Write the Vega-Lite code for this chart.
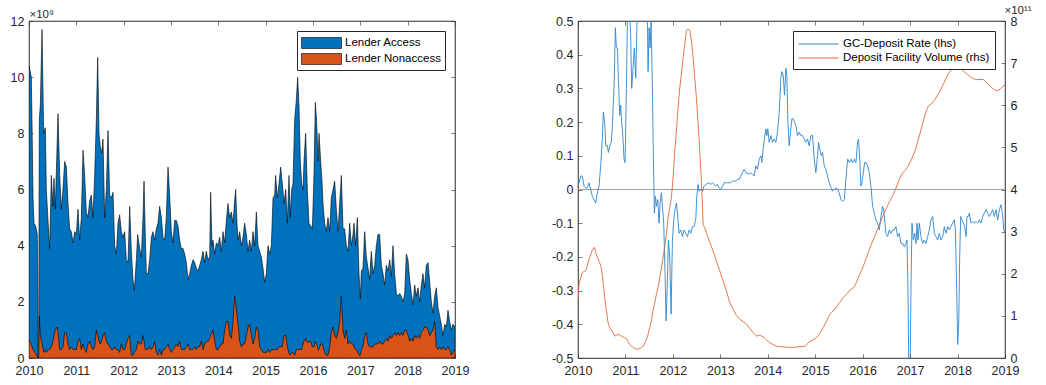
{
"$schema": "https://vega.github.io/schema/vega-lite/v6.json",
"background": "white",
"padding": {"left": 9, "top": 3, "right": 0, "bottom": 0},
"spacing": 81,
"resolve": {"scale": {"color": "independent"}, "legend": {"color": "independent"}},
"config": {
 "font": "Liberation Sans",
 "view": {"stroke": "#262626", "strokeWidth": 0.6},
 "axis": {"grid": false, "labelFlush": false, "labelOverlap": false, "labelFont": "Liberation Sans", "labelFontSize": 12.5, "labelColor": "#262626", "tickColor": "#262626", "domainColor": "#262626", "domainWidth": 0.6, "tickWidth": 0.6, "tickSize": -4, "labelPadding": 9, "titleFont": "Liberation Sans", "titleFontWeight": "normal", "titleColor": "#262626"},
 "axisX": {"labelPadding": 10},
 "legend": {"labelFont": "Liberation Sans", "labelFontSize": 11.5, "labelColor": "#000", "strokeColor": "#262626", "fillColor": "white", "padding": 4}
},
"datasets": {
"lend": [
{"t":2010.000,"access":10.4,"nonaccess":0.6},{"t":2010.014,"access":10.3,"nonaccess":0.6},{"t":2010.049,"access":10.0,"nonaccess":0.5},{"t":2010.063,"access":8.5,"nonaccess":0.4},{"t":2010.085,"access":5.7,"nonaccess":0.3},{"t":2010.106,"access":4.8,"nonaccess":0.25},{"t":2010.141,"access":4.7,"nonaccess":0.15},{"t":2010.176,"access":4.4,"nonaccess":0.05},{"t":2010.190,"access":0.0,"nonaccess":0.0},{"t":2010.204,"access":0.0,"nonaccess":0.0},{"t":2010.218,"access":8.5,"nonaccess":1.5},{"t":2010.239,"access":9.0,"nonaccess":0.8},{"t":2010.275,"access":11.7,"nonaccess":0.5},{"t":2010.310,"access":8.0,"nonaccess":0.2},{"t":2010.345,"access":8.2,"nonaccess":0.3},{"t":2010.366,"access":6.0,"nonaccess":0.2},{"t":2010.415,"access":4.5,"nonaccess":0.3},{"t":2010.437,"access":3.9,"nonaccess":0.3},{"t":2010.472,"access":6.5,"nonaccess":0.4},{"t":2010.507,"access":5.4,"nonaccess":0.6},{"t":2010.528,"access":6.4,"nonaccess":0.8},{"t":2010.556,"access":5.3,"nonaccess":1.0},{"t":2010.592,"access":7.5,"nonaccess":1.1},{"t":2010.613,"access":8.7,"nonaccess":0.9},{"t":2010.648,"access":6.5,"nonaccess":0.3},{"t":2010.683,"access":5.3,"nonaccess":0.3},{"t":2010.718,"access":6.0,"nonaccess":0.4},{"t":2010.754,"access":7.0,"nonaccess":0.9},{"t":2010.789,"access":6.8,"nonaccess":0.9},{"t":2010.824,"access":5.5,"nonaccess":0.5},{"t":2010.859,"access":4.6,"nonaccess":0.3},{"t":2010.894,"access":4.5,"nonaccess":0.4},{"t":2010.930,"access":4.1,"nonaccess":0.3},{"t":2010.965,"access":4.5,"nonaccess":0.3},
{"t":2011.000,"access":4.4,"nonaccess":0.3},{"t":2011.035,"access":5.3,"nonaccess":0.6},{"t":2011.070,"access":4.2,"nonaccess":0.7},{"t":2011.106,"access":5.0,"nonaccess":0.3},{"t":2011.141,"access":7.4,"nonaccess":0.5},{"t":2011.176,"access":6.5,"nonaccess":0.3},{"t":2011.211,"access":5.2,"nonaccess":0.2},{"t":2011.246,"access":5.0,"nonaccess":0.5},{"t":2011.282,"access":5.6,"nonaccess":0.6},{"t":2011.317,"access":5.8,"nonaccess":0.4},{"t":2011.352,"access":5.0,"nonaccess":0.3},{"t":2011.387,"access":6.5,"nonaccess":0.4},{"t":2011.423,"access":8.5,"nonaccess":1.0},{"t":2011.451,"access":10.7,"nonaccess":0.8},{"t":2011.479,"access":8.0,"nonaccess":0.6},{"t":2011.507,"access":7.5,"nonaccess":0.5},{"t":2011.535,"access":7.3,"nonaccess":0.6},{"t":2011.563,"access":7.8,"nonaccess":0.8},{"t":2011.599,"access":5.0,"nonaccess":0.9},{"t":2011.634,"access":6.0,"nonaccess":0.6},{"t":2011.669,"access":8.1,"nonaccess":0.5},{"t":2011.704,"access":5.8,"nonaccess":0.4},{"t":2011.739,"access":5.7,"nonaccess":0.3},{"t":2011.775,"access":5.9,"nonaccess":0.3},{"t":2011.810,"access":4.0,"nonaccess":0.4},{"t":2011.845,"access":3.7,"nonaccess":0.3},{"t":2011.880,"access":4.8,"nonaccess":0.3},{"t":2011.915,"access":5.1,"nonaccess":0.2},{"t":2011.951,"access":4.5,"nonaccess":0.5},{"t":2011.986,"access":4.3,"nonaccess":0.3},
{"t":2012.021,"access":4.5,"nonaccess":0.3},{"t":2012.056,"access":3.5,"nonaccess":0.5},{"t":2012.092,"access":3.4,"nonaccess":0.7},{"t":2012.127,"access":5.4,"nonaccess":0.8},{"t":2012.162,"access":3.8,"nonaccess":0.1},{"t":2012.197,"access":2.8,"nonaccess":0.1},{"t":2012.225,"access":2.4,"nonaccess":0.2},{"t":2012.268,"access":3.5,"nonaccess":0.3},{"t":2012.296,"access":4.4,"nonaccess":0.6},{"t":2012.338,"access":3.9,"nonaccess":0.5},{"t":2012.373,"access":3.6,"nonaccess":0.5},{"t":2012.408,"access":5.0,"nonaccess":0.8},{"t":2012.430,"access":6.3,"nonaccess":0.6},{"t":2012.458,"access":4.3,"nonaccess":0.3},{"t":2012.479,"access":3.0,"nonaccess":0.3},{"t":2012.514,"access":3.0,"nonaccess":0.3},{"t":2012.549,"access":3.5,"nonaccess":0.4},{"t":2012.585,"access":4.3,"nonaccess":0.3},{"t":2012.620,"access":4.5,"nonaccess":0.4},{"t":2012.655,"access":4.2,"nonaccess":0.6},{"t":2012.690,"access":4.6,"nonaccess":0.2},{"t":2012.725,"access":4.8,"nonaccess":0.1},{"t":2012.761,"access":5.4,"nonaccess":0.3},{"t":2012.796,"access":5.0,"nonaccess":0.1},{"t":2012.831,"access":4.3,"nonaccess":0.3},{"t":2012.866,"access":4.2,"nonaccess":0.3},{"t":2012.901,"access":5.0,"nonaccess":0.4},{"t":2012.937,"access":6.8,"nonaccess":0.5},{"t":2012.972,"access":5.8,"nonaccess":0.3},
{"t":2013.007,"access":4.5,"nonaccess":0.2},{"t":2013.042,"access":4.1,"nonaccess":0.3},{"t":2013.077,"access":4.9,"nonaccess":0.4},{"t":2013.113,"access":4.9,"nonaccess":0.5},{"t":2013.148,"access":4.7,"nonaccess":0.4},{"t":2013.183,"access":4.2,"nonaccess":0.6},{"t":2013.218,"access":3.9,"nonaccess":0.3},{"t":2013.254,"access":3.9,"nonaccess":0.3},{"t":2013.289,"access":3.7,"nonaccess":0.3},{"t":2013.324,"access":3.4,"nonaccess":0.4},{"t":2013.359,"access":2.8,"nonaccess":0.5},{"t":2013.394,"access":3.0,"nonaccess":0.3},{"t":2013.430,"access":3.3,"nonaccess":0.3},{"t":2013.465,"access":3.5,"nonaccess":0.3},{"t":2013.500,"access":3.4,"nonaccess":0.4},{"t":2013.535,"access":3.2,"nonaccess":0.3},{"t":2013.570,"access":3.1,"nonaccess":0.4},{"t":2013.606,"access":3.3,"nonaccess":0.4},{"t":2013.641,"access":3.5,"nonaccess":0.6},{"t":2013.676,"access":3.8,"nonaccess":0.3},{"t":2013.711,"access":3.4,"nonaccess":0.5},{"t":2013.746,"access":3.8,"nonaccess":0.6},{"t":2013.782,"access":3.5,"nonaccess":0.6},{"t":2013.817,"access":3.6,"nonaccess":0.7},{"t":2013.838,"access":5.9,"nonaccess":0.8},{"t":2013.866,"access":4.0,"nonaccess":0.9},{"t":2013.887,"access":4.2,"nonaccess":1.0},{"t":2013.923,"access":3.7,"nonaccess":0.6},{"t":2013.958,"access":4.1,"nonaccess":0.3},{"t":2013.993,"access":4.0,"nonaccess":0.3},
{"t":2014.028,"access":4.3,"nonaccess":0.4},{"t":2014.063,"access":3.8,"nonaccess":0.5},{"t":2014.099,"access":4.5,"nonaccess":0.5},{"t":2014.134,"access":4.1,"nonaccess":1.0},{"t":2014.169,"access":4.9,"nonaccess":1.3},{"t":2014.204,"access":5.5,"nonaccess":1.3},{"t":2014.239,"access":5.0,"nonaccess":0.8},{"t":2014.275,"access":5.2,"nonaccess":0.7},{"t":2014.310,"access":4.8,"nonaccess":1.3},{"t":2014.345,"access":5.6,"nonaccess":2.2},{"t":2014.366,"access":6.0,"nonaccess":2.0},{"t":2014.394,"access":4.8,"nonaccess":1.5},{"t":2014.415,"access":4.2,"nonaccess":1.2},{"t":2014.451,"access":4.5,"nonaccess":0.6},{"t":2014.486,"access":4.0,"nonaccess":0.4},{"t":2014.521,"access":4.3,"nonaccess":0.5},{"t":2014.556,"access":4.8,"nonaccess":0.5},{"t":2014.592,"access":4.4,"nonaccess":0.8},{"t":2014.627,"access":3.8,"nonaccess":1.1},{"t":2014.662,"access":4.2,"nonaccess":1.2},{"t":2014.697,"access":3.8,"nonaccess":0.8},{"t":2014.732,"access":4.5,"nonaccess":0.5},{"t":2014.768,"access":4.0,"nonaccess":0.7},{"t":2014.803,"access":5.2,"nonaccess":1.1},{"t":2014.838,"access":4.0,"nonaccess":1.0},{"t":2014.873,"access":3.8,"nonaccess":0.4},{"t":2014.908,"access":3.6,"nonaccess":0.3},{"t":2014.944,"access":3.2,"nonaccess":0.2},{"t":2014.979,"access":2.7,"nonaccess":0.2},
{"t":2015.014,"access":3.0,"nonaccess":0.2},{"t":2015.049,"access":4.0,"nonaccess":0.3},{"t":2015.085,"access":3.7,"nonaccess":0.2},{"t":2015.120,"access":4.0,"nonaccess":0.3},{"t":2015.155,"access":5.7,"nonaccess":0.3},{"t":2015.190,"access":5.8,"nonaccess":0.3},{"t":2015.211,"access":6.5,"nonaccess":0.3},{"t":2015.246,"access":5.7,"nonaccess":0.3},{"t":2015.282,"access":6.2,"nonaccess":0.4},{"t":2015.317,"access":6.8,"nonaccess":0.4},{"t":2015.352,"access":6.2,"nonaccess":0.4},{"t":2015.387,"access":5.5,"nonaccess":0.8},{"t":2015.423,"access":6.0,"nonaccess":0.8},{"t":2015.458,"access":4.8,"nonaccess":0.4},{"t":2015.493,"access":6.5,"nonaccess":0.15},{"t":2015.521,"access":5.0,"nonaccess":0.1},{"t":2015.549,"access":6.0,"nonaccess":0.2},{"t":2015.577,"access":6.2,"nonaccess":0.2},{"t":2015.613,"access":8.5,"nonaccess":0.1},{"t":2015.648,"access":9.2,"nonaccess":0.3},{"t":2015.676,"access":10.0,"nonaccess":0.3},{"t":2015.704,"access":9.0,"nonaccess":0.3},{"t":2015.732,"access":7.0,"nonaccess":0.3},{"t":2015.761,"access":6.2,"nonaccess":0.3},{"t":2015.789,"access":6.0,"nonaccess":0.5},{"t":2015.810,"access":7.0,"nonaccess":0.6},{"t":2015.845,"access":8.0,"nonaccess":0.7},{"t":2015.880,"access":6.0,"nonaccess":0.55},{"t":2015.915,"access":4.8,"nonaccess":0.6},{"t":2015.951,"access":4.7,"nonaccess":0.6},{"t":2015.986,"access":4.6,"nonaccess":0.4},
{"t":2016.021,"access":6.5,"nonaccess":0.4},{"t":2016.049,"access":9.1,"nonaccess":0.6},{"t":2016.077,"access":8.4,"nonaccess":0.5},{"t":2016.106,"access":7.0,"nonaccess":0.3},{"t":2016.127,"access":8.0,"nonaccess":0.3},{"t":2016.162,"access":7.0,"nonaccess":0.5},{"t":2016.190,"access":6.3,"nonaccess":0.5},{"t":2016.211,"access":5.5,"nonaccess":0.4},{"t":2016.246,"access":4.8,"nonaccess":0.2},{"t":2016.282,"access":4.5,"nonaccess":0.1},{"t":2016.317,"access":5.0,"nonaccess":0.1},{"t":2016.352,"access":4.5,"nonaccess":0.4},{"t":2016.387,"access":5.7,"nonaccess":0.9},{"t":2016.423,"access":6.0,"nonaccess":1.1},{"t":2016.458,"access":6.3,"nonaccess":0.8},{"t":2016.493,"access":5.3,"nonaccess":0.7},{"t":2016.528,"access":4.5,"nonaccess":0.9},{"t":2016.563,"access":5.5,"nonaccess":1.3},{"t":2016.599,"access":6.5,"nonaccess":2.2},{"t":2016.634,"access":4.6,"nonaccess":1.0},{"t":2016.669,"access":4.6,"nonaccess":0.7},{"t":2016.704,"access":4.0,"nonaccess":1.0},{"t":2016.739,"access":3.8,"nonaccess":0.5},{"t":2016.775,"access":4.8,"nonaccess":0.6},{"t":2016.810,"access":4.0,"nonaccess":0.5},{"t":2016.845,"access":4.4,"nonaccess":0.5},{"t":2016.866,"access":4.8,"nonaccess":0.4},{"t":2016.901,"access":4.0,"nonaccess":0.3},{"t":2016.937,"access":5.0,"nonaccess":0.25},{"t":2016.972,"access":3.0,"nonaccess":0.1},
{"t":2017.000,"access":2.1,"nonaccess":0.1},{"t":2017.021,"access":3.1,"nonaccess":0.3},{"t":2017.056,"access":3.2,"nonaccess":0.4},{"t":2017.092,"access":4.5,"nonaccess":0.8},{"t":2017.127,"access":3.6,"nonaccess":0.9},{"t":2017.162,"access":3.2,"nonaccess":0.5},{"t":2017.197,"access":2.8,"nonaccess":0.4},{"t":2017.232,"access":3.8,"nonaccess":0.4},{"t":2017.268,"access":3.0,"nonaccess":0.4},{"t":2017.303,"access":3.3,"nonaccess":0.5},{"t":2017.338,"access":4.0,"nonaccess":0.5},{"t":2017.373,"access":4.4,"nonaccess":0.5},{"t":2017.408,"access":4.4,"nonaccess":0.6},{"t":2017.444,"access":3.3,"nonaccess":0.5},{"t":2017.479,"access":3.0,"nonaccess":0.5},{"t":2017.514,"access":2.6,"nonaccess":0.6},{"t":2017.549,"access":3.3,"nonaccess":0.7},{"t":2017.585,"access":3.1,"nonaccess":0.6},{"t":2017.620,"access":3.5,"nonaccess":0.8},{"t":2017.655,"access":2.9,"nonaccess":0.7},{"t":2017.690,"access":4.0,"nonaccess":0.8},{"t":2017.725,"access":3.0,"nonaccess":0.9},{"t":2017.761,"access":2.3,"nonaccess":0.8},{"t":2017.796,"access":2.2,"nonaccess":0.9},{"t":2017.831,"access":2.3,"nonaccess":0.8},{"t":2017.866,"access":2.2,"nonaccess":0.9},{"t":2017.901,"access":2.0,"nonaccess":0.8},{"t":2017.937,"access":2.3,"nonaccess":1.0},{"t":2017.972,"access":3.7,"nonaccess":1.0},
{"t":2018.007,"access":3.5,"nonaccess":0.8},{"t":2018.042,"access":2.8,"nonaccess":0.6},{"t":2018.077,"access":2.3,"nonaccess":0.7},{"t":2018.113,"access":1.9,"nonaccess":0.6},{"t":2018.148,"access":2.6,"nonaccess":0.8},{"t":2018.183,"access":2.2,"nonaccess":0.7},{"t":2018.218,"access":2.5,"nonaccess":0.8},{"t":2018.254,"access":2.0,"nonaccess":0.7},{"t":2018.289,"access":2.6,"nonaccess":0.9},{"t":2018.324,"access":3.0,"nonaccess":1.0},{"t":2018.359,"access":2.5,"nonaccess":1.1},{"t":2018.394,"access":3.3,"nonaccess":1.1},{"t":2018.430,"access":3.4,"nonaccess":1.0},{"t":2018.465,"access":2.7,"nonaccess":0.8},{"t":2018.500,"access":2.0,"nonaccess":0.9},{"t":2018.535,"access":1.6,"nonaccess":1.0},{"t":2018.570,"access":2.2,"nonaccess":1.3},{"t":2018.606,"access":2.5,"nonaccess":0.4},{"t":2018.641,"access":1.8,"nonaccess":0.3},{"t":2018.676,"access":1.5,"nonaccess":0.4},{"t":2018.711,"access":1.2,"nonaccess":0.3},{"t":2018.746,"access":0.8,"nonaccess":0.4},{"t":2018.782,"access":1.2,"nonaccess":0.3},{"t":2018.817,"access":1.1,"nonaccess":0.3},{"t":2018.852,"access":1.7,"nonaccess":0.4},{"t":2018.887,"access":1.3,"nonaccess":0.3},{"t":2018.923,"access":1.0,"nonaccess":0.1},{"t":2018.958,"access":1.2,"nonaccess":0.2},{"t":2019.000,"access":1.1,"nonaccess":0.3}
],
"rate": [
{"t":2010.000,"gc":0.03},{"t":2010.021,"gc":0.02},{"t":2010.056,"gc":0.04},{"t":2010.091,"gc":0.04},{"t":2010.127,"gc":0.01},{"t":2010.162,"gc":0.005},{"t":2010.197,"gc":0.005},{"t":2010.232,"gc":0.02},{"t":2010.267,"gc":0.0},{"t":2010.302,"gc":-0.02},{"t":2010.338,"gc":-0.03},{"t":2010.373,"gc":-0.04},{"t":2010.408,"gc":-0.01},{"t":2010.443,"gc":0.01},{"t":2010.478,"gc":0.07},{"t":2010.513,"gc":0.15},{"t":2010.534,"gc":0.23},{"t":2010.563,"gc":0.2},{"t":2010.584,"gc":0.13},{"t":2010.619,"gc":0.13},{"t":2010.640,"gc":0.11},{"t":2010.668,"gc":0.13},{"t":2010.703,"gc":0.14},{"t":2010.724,"gc":0.19},{"t":2010.759,"gc":0.30},{"t":2010.788,"gc":0.48},{"t":2010.809,"gc":0.42},{"t":2010.830,"gc":0.42},{"t":2010.851,"gc":0.33},{"t":2010.879,"gc":0.22},{"t":2010.900,"gc":0.25},{"t":2010.921,"gc":0.20},{"t":2010.949,"gc":0.15},{"t":2010.970,"gc":0.09},{"t":2010.992,"gc":0.08},
{"t":2011.020,"gc":0.30},{"t":2011.041,"gc":0.50},{"t":2011.062,"gc":0.62},{"t":2011.090,"gc":0.55},{"t":2011.111,"gc":0.45},{"t":2011.132,"gc":0.30},{"t":2011.160,"gc":0.36},{"t":2011.188,"gc":0.42},{"t":2011.217,"gc":0.33},{"t":2011.245,"gc":0.50},{"t":2011.266,"gc":0.62},{"t":2011.301,"gc":0.70},{"t":2011.343,"gc":0.65},{"t":2011.392,"gc":0.68},{"t":2011.442,"gc":0.58},{"t":2011.463,"gc":0.50},{"t":2011.477,"gc":0.35},{"t":2011.498,"gc":0.48},{"t":2011.519,"gc":0.42},{"t":2011.540,"gc":0.50},{"t":2011.568,"gc":0.30},{"t":2011.589,"gc":0.10},{"t":2011.610,"gc":-0.07},{"t":2011.632,"gc":-0.02},{"t":2011.653,"gc":-0.05},{"t":2011.681,"gc":-0.03},{"t":2011.709,"gc":-0.10},{"t":2011.730,"gc":-0.04},{"t":2011.758,"gc":-0.01},{"t":2011.779,"gc":-0.05},{"t":2011.807,"gc":-0.10},{"t":2011.835,"gc":-0.25},{"t":2011.857,"gc":-0.39},{"t":2011.878,"gc":-0.30},{"t":2011.906,"gc":-0.15},{"t":2011.934,"gc":-0.20},{"t":2011.962,"gc":-0.37},{"t":2011.990,"gc":-0.15},
{"t":2012.018,"gc":-0.09},{"t":2012.046,"gc":-0.06},{"t":2012.075,"gc":-0.04},{"t":2012.103,"gc":-0.08},{"t":2012.131,"gc":-0.13},{"t":2012.166,"gc":-0.12},{"t":2012.201,"gc":-0.14},{"t":2012.236,"gc":-0.12},{"t":2012.271,"gc":-0.13},{"t":2012.307,"gc":-0.14},{"t":2012.342,"gc":-0.12},{"t":2012.377,"gc":-0.13},{"t":2012.412,"gc":-0.11},{"t":2012.447,"gc":-0.11},{"t":2012.482,"gc":-0.09},{"t":2012.504,"gc":-0.02},{"t":2012.532,"gc":0.015},{"t":2012.553,"gc":-0.005},{"t":2012.588,"gc":0.0},{"t":2012.623,"gc":-0.005},{"t":2012.658,"gc":0.01},{"t":2012.693,"gc":0.015},{"t":2012.764,"gc":0.02},{"t":2012.799,"gc":0.015},{"t":2012.834,"gc":0.02},{"t":2012.904,"gc":0.01},{"t":2012.940,"gc":0.015},{"t":2012.975,"gc":0.005},
{"t":2013.010,"gc":0.0},{"t":2013.045,"gc":0.01},{"t":2013.080,"gc":0.02},{"t":2013.150,"gc":0.02},{"t":2013.221,"gc":0.02},{"t":2013.256,"gc":0.025},{"t":2013.326,"gc":0.025},{"t":2013.361,"gc":0.03},{"t":2013.397,"gc":0.03},{"t":2013.432,"gc":0.04},{"t":2013.467,"gc":0.05},{"t":2013.502,"gc":0.06},{"t":2013.537,"gc":0.05},{"t":2013.608,"gc":0.045},{"t":2013.643,"gc":0.05},{"t":2013.678,"gc":0.045},{"t":2013.713,"gc":0.04},{"t":2013.748,"gc":0.07},{"t":2013.783,"gc":0.06},{"t":2013.819,"gc":0.09},{"t":2013.854,"gc":0.10},{"t":2013.875,"gc":0.08},{"t":2013.903,"gc":0.12},{"t":2013.931,"gc":0.15},{"t":2013.959,"gc":0.18},{"t":2013.980,"gc":0.16},
{"t":2014.001,"gc":0.18},{"t":2014.030,"gc":0.14},{"t":2014.065,"gc":0.16},{"t":2014.100,"gc":0.14},{"t":2014.135,"gc":0.15},{"t":2014.170,"gc":0.14},{"t":2014.205,"gc":0.17},{"t":2014.241,"gc":0.23},{"t":2014.276,"gc":0.33},{"t":2014.297,"gc":0.35},{"t":2014.325,"gc":0.34},{"t":2014.353,"gc":0.28},{"t":2014.381,"gc":0.36},{"t":2014.402,"gc":0.34},{"t":2014.423,"gc":0.20},{"t":2014.451,"gc":0.13},{"t":2014.480,"gc":0.17},{"t":2014.508,"gc":0.21},{"t":2014.536,"gc":0.21},{"t":2014.564,"gc":0.20},{"t":2014.592,"gc":0.19},{"t":2014.627,"gc":0.16},{"t":2014.662,"gc":0.17},{"t":2014.698,"gc":0.16},{"t":2014.733,"gc":0.16},{"t":2014.768,"gc":0.15},{"t":2014.803,"gc":0.14},{"t":2014.838,"gc":0.15},{"t":2014.873,"gc":0.13},{"t":2014.909,"gc":0.16},{"t":2014.944,"gc":0.16},{"t":2014.979,"gc":0.09},
{"t":2015.014,"gc":0.05},{"t":2015.049,"gc":0.10},{"t":2015.070,"gc":0.14},{"t":2015.098,"gc":0.12},{"t":2015.127,"gc":0.10},{"t":2015.155,"gc":0.11},{"t":2015.190,"gc":0.07},{"t":2015.225,"gc":0.06},{"t":2015.260,"gc":0.04},{"t":2015.295,"gc":0.02},{"t":2015.331,"gc":0.005},{"t":2015.366,"gc":-0.005},{"t":2015.401,"gc":0.0},{"t":2015.436,"gc":0.005},{"t":2015.471,"gc":0.0},{"t":2015.506,"gc":-0.01},{"t":2015.541,"gc":-0.03},{"t":2015.577,"gc":-0.035},{"t":2015.612,"gc":-0.03},{"t":2015.647,"gc":0.03},{"t":2015.682,"gc":0.09},{"t":2015.717,"gc":0.08},{"t":2015.752,"gc":0.09},{"t":2015.788,"gc":0.08},{"t":2015.823,"gc":0.09},{"t":2015.858,"gc":0.08},{"t":2015.893,"gc":0.14},{"t":2015.914,"gc":0.15},{"t":2015.942,"gc":0.08},{"t":2015.963,"gc":0.01},{"t":2015.984,"gc":0.02},
{"t":2016.013,"gc":0.05},{"t":2016.041,"gc":0.08},{"t":2016.069,"gc":0.08},{"t":2016.104,"gc":0.07},{"t":2016.139,"gc":0.05},{"t":2016.174,"gc":0.01},{"t":2016.210,"gc":-0.05},{"t":2016.245,"gc":-0.07},{"t":2016.280,"gc":-0.09},{"t":2016.315,"gc":-0.10},{"t":2016.350,"gc":-0.12},{"t":2016.385,"gc":-0.08},{"t":2016.421,"gc":-0.05},{"t":2016.442,"gc":-0.06},{"t":2016.463,"gc":-0.09},{"t":2016.491,"gc":-0.13},{"t":2016.526,"gc":-0.14},{"t":2016.561,"gc":-0.12},{"t":2016.596,"gc":-0.13},{"t":2016.632,"gc":-0.12},{"t":2016.667,"gc":-0.12},{"t":2016.702,"gc":-0.11},{"t":2016.737,"gc":-0.14},{"t":2016.772,"gc":-0.13},{"t":2016.807,"gc":-0.16},{"t":2016.842,"gc":-0.16},{"t":2016.878,"gc":-0.17},{"t":2016.913,"gc":-0.16},{"t":2016.934,"gc":-0.15},{"t":2016.955,"gc":-0.30},{"t":2016.976,"gc":-0.58},{"t":2016.997,"gc":-0.58},
{"t":2017.018,"gc":-0.30},{"t":2017.039,"gc":-0.10},{"t":2017.068,"gc":-0.15},{"t":2017.096,"gc":-0.13},{"t":2017.124,"gc":-0.16},{"t":2017.145,"gc":-0.10},{"t":2017.166,"gc":-0.15},{"t":2017.194,"gc":-0.10},{"t":2017.229,"gc":-0.14},{"t":2017.264,"gc":-0.16},{"t":2017.300,"gc":-0.15},{"t":2017.335,"gc":-0.16},{"t":2017.370,"gc":-0.14},{"t":2017.405,"gc":-0.12},{"t":2017.440,"gc":-0.09},{"t":2017.475,"gc":-0.08},{"t":2017.511,"gc":-0.13},{"t":2017.546,"gc":-0.14},{"t":2017.581,"gc":-0.15},{"t":2017.616,"gc":-0.13},{"t":2017.651,"gc":-0.15},{"t":2017.686,"gc":-0.14},{"t":2017.722,"gc":-0.11},{"t":2017.757,"gc":-0.13},{"t":2017.792,"gc":-0.11},{"t":2017.827,"gc":-0.12},{"t":2017.862,"gc":-0.11},{"t":2017.897,"gc":-0.10},{"t":2017.932,"gc":-0.09},{"t":2017.954,"gc":-0.12},{"t":2017.982,"gc":-0.30},
{"t":2018.003,"gc":-0.46},{"t":2018.024,"gc":-0.40},{"t":2018.045,"gc":-0.20},{"t":2018.066,"gc":-0.08},{"t":2018.094,"gc":-0.09},{"t":2018.122,"gc":-0.10},{"t":2018.150,"gc":-0.11},{"t":2018.179,"gc":-0.14},{"t":2018.200,"gc":-0.08},{"t":2018.228,"gc":-0.08},{"t":2018.249,"gc":-0.07},{"t":2018.284,"gc":-0.10},{"t":2018.319,"gc":-0.095},{"t":2018.354,"gc":-0.10},{"t":2018.390,"gc":-0.095},{"t":2018.425,"gc":-0.10},{"t":2018.460,"gc":-0.09},{"t":2018.495,"gc":-0.10},{"t":2018.530,"gc":-0.08},{"t":2018.565,"gc":-0.07},{"t":2018.601,"gc":-0.06},{"t":2018.636,"gc":-0.07},{"t":2018.671,"gc":-0.08},{"t":2018.706,"gc":-0.07},{"t":2018.741,"gc":-0.06},{"t":2018.776,"gc":-0.08},{"t":2018.812,"gc":-0.06},{"t":2018.847,"gc":-0.09},{"t":2018.882,"gc":-0.06},{"t":2018.917,"gc":-0.045},{"t":2018.952,"gc":-0.08},{"t":2018.973,"gc":-0.12},{"t":2019.000,"gc":-0.13}
],
"vol": [
{"t":2010.000,"dfv":1.39},{"t":2010.021,"dfv":1.75},{"t":2010.056,"dfv":1.9},{"t":2010.091,"dfv":2.03},{"t":2010.162,"dfv":2.07},{"t":2010.232,"dfv":2.34},{"t":2010.302,"dfv":2.56},{"t":2010.345,"dfv":2.63},{"t":2010.387,"dfv":2.46},{"t":2010.457,"dfv":2.26},{"t":2010.492,"dfv":2.14},{"t":2010.527,"dfv":1.83},{"t":2010.563,"dfv":1.43},{"t":2010.598,"dfv":1.12},{"t":2010.633,"dfv":0.84},{"t":2010.668,"dfv":0.72},{"t":2010.738,"dfv":0.60},{"t":2010.774,"dfv":0.52},{"t":2010.844,"dfv":0.56},{"t":2010.914,"dfv":0.52},{"t":2010.985,"dfv":0.48},{"t":2011.020,"dfv":0.46},{"t":2011.055,"dfv":0.40},{"t":2011.090,"dfv":0.32},{"t":2011.160,"dfv":0.25},{"t":2011.231,"dfv":0.21},{"t":2011.266,"dfv":0.21},{"t":2011.336,"dfv":0.25},{"t":2011.371,"dfv":0.28},{"t":2011.406,"dfv":0.35},{"t":2011.442,"dfv":0.44},{"t":2011.477,"dfv":0.56},{"t":2011.512,"dfv":0.72},{"t":2011.547,"dfv":0.88},{"t":2011.582,"dfv":1.12},{"t":2011.617,"dfv":1.31},{"t":2011.653,"dfv":1.51},{"t":2011.688,"dfv":1.67},{"t":2011.723,"dfv":1.91},{"t":2011.758,"dfv":2.14},{"t":2011.793,"dfv":2.38},{"t":2011.828,"dfv":2.66},{"t":2011.864,"dfv":2.94},{"t":2011.899,"dfv":3.33},{"t":2011.934,"dfv":3.57},{"t":2011.969,"dfv":3.81},{"t":2012.004,"dfv":4.28},{"t":2012.039,"dfv":4.91},{"t":2012.075,"dfv":5.39},{"t":2012.110,"dfv":5.94},{"t":2012.145,"dfv":6.42},{"t":2012.180,"dfv":6.73},{"t":2012.215,"dfv":7.13},{"t":2012.250,"dfv":7.44},{"t":2012.286,"dfv":7.78},{"t":2012.321,"dfv":7.80},{"t":2012.356,"dfv":7.78},{"t":2012.391,"dfv":7.52},{"t":2012.426,"dfv":7.13},{"t":2012.461,"dfv":6.65},{"t":2012.496,"dfv":6.18},{"t":2012.532,"dfv":5.55},{"t":2012.567,"dfv":4.91},{"t":2012.602,"dfv":4.20},{"t":2012.637,"dfv":3.17},{"t":2012.672,"dfv":3.09},{"t":2012.707,"dfv":2.97},{"t":2012.778,"dfv":2.74},{"t":2012.848,"dfv":2.54},{"t":2012.918,"dfv":2.30},{"t":2012.989,"dfv":2.07},{"t":2013.059,"dfv":1.83},{"t":2013.129,"dfv":1.59},{"t":2013.200,"dfv":1.31},{"t":2013.270,"dfv":1.16},{"t":2013.340,"dfv":1.01},{"t":2013.411,"dfv":0.92},{"t":2013.481,"dfv":0.86},{"t":2013.551,"dfv":0.80},{"t":2013.622,"dfv":0.70},{"t":2013.692,"dfv":0.60},{"t":2013.762,"dfv":0.52},{"t":2013.833,"dfv":0.54},{"t":2013.903,"dfv":0.50},{"t":2013.973,"dfv":0.43},{"t":2014.043,"dfv":0.36},{"t":2014.114,"dfv":0.32},{"t":2014.184,"dfv":0.28},{"t":2014.255,"dfv":0.27},{"t":2014.360,"dfv":0.26},{"t":2014.501,"dfv":0.25},{"t":2014.606,"dfv":0.26},{"t":2014.712,"dfv":0.27},{"t":2014.782,"dfv":0.28},{"t":2014.817,"dfv":0.31},{"t":2014.852,"dfv":0.36},{"t":2014.887,"dfv":0.40},{"t":2014.958,"dfv":0.43},{"t":2015.028,"dfv":0.48},{"t":2015.098,"dfv":0.58},{"t":2015.169,"dfv":0.72},{"t":2015.239,"dfv":0.88},{"t":2015.309,"dfv":1.04},{"t":2015.380,"dfv":1.12},{"t":2015.450,"dfv":1.22},{"t":2015.520,"dfv":1.32},{"t":2015.591,"dfv":1.43},{"t":2015.661,"dfv":1.52},{"t":2015.731,"dfv":1.61},{"t":2015.767,"dfv":1.63},{"t":2015.837,"dfv":1.72},{"t":2015.907,"dfv":1.90},{"t":2015.977,"dfv":2.08},{"t":2016.048,"dfv":2.28},{"t":2016.118,"dfv":2.50},{"t":2016.188,"dfv":2.72},{"t":2016.259,"dfv":2.90},{"t":2016.329,"dfv":3.10},{"t":2016.399,"dfv":3.30},{"t":2016.470,"dfv":3.48},{"t":2016.540,"dfv":3.65},{"t":2016.610,"dfv":3.80},{"t":2016.681,"dfv":3.97},{"t":2016.751,"dfv":4.18},{"t":2016.821,"dfv":4.36},{"t":2016.892,"dfv":4.45},{"t":2016.962,"dfv":4.56},{"t":2017.032,"dfv":4.72},{"t":2017.103,"dfv":4.91},{"t":2017.173,"dfv":5.19},{"t":2017.243,"dfv":5.47},{"t":2017.314,"dfv":5.78},{"t":2017.384,"dfv":5.98},{"t":2017.454,"dfv":6.04},{"t":2017.525,"dfv":6.14},{"t":2017.595,"dfv":6.27},{"t":2017.665,"dfv":6.42},{"t":2017.736,"dfv":6.59},{"t":2017.806,"dfv":6.75},{"t":2017.876,"dfv":6.85},{"t":2017.947,"dfv":6.91},{"t":2017.996,"dfv":6.93},{"t":2018.052,"dfv":6.88},{"t":2018.122,"dfv":6.81},{"t":2018.193,"dfv":6.75},{"t":2018.263,"dfv":6.68},{"t":2018.333,"dfv":6.63},{"t":2018.404,"dfv":6.61},{"t":2018.474,"dfv":6.61},{"t":2018.544,"dfv":6.61},{"t":2018.615,"dfv":6.53},{"t":2018.685,"dfv":6.46},{"t":2018.755,"dfv":6.38},{"t":2018.826,"dfv":6.34},{"t":2018.896,"dfv":6.38},{"t":2018.966,"dfv":6.46},{"t":2019.000,"dfv":6.48}
]
},
"hconcat": [
{
 "width": 426, "height": 337,
 "layer": [
  {
   "data": {"name": "lend"},
   "transform": [{"fold": ["access", "nonaccess"], "as": ["series", "value"]}],
   "mark": {"type": "area", "stroke": "#000", "strokeWidth": 0.6, "clip": true},
   "encoding": {
    "x": {"field": "t", "type": "quantitative", "scale": {"domain": [2010, 2019], "nice": false, "zero": false},
          "axis": {"values": [2010,2011,2012,2013,2014,2015,2016,2017,2018,2019], "format": "d", "title": null, "labelFlush": false, "labelOverlap": false}},
    "y": {"field": "value", "type": "quantitative", "stack": null, "scale": {"domain": [0, 12], "nice": false, "zero": false},
          "axis": {"values": [0,2,4,6,8,10,12], "labelOverlap": false, "title": "×10⁹", "titleAngle": 0, "titleAlign": "left", "titleBaseline": "alphabetic", "titleX": 0, "titleY": -4, "titleFontSize": 11.5}},
    "color": {"field": "series", "type": "nominal",
              "scale": {"domain": ["access", "nonaccess"], "range": ["#0072BD", "#D95319"]},
              "legend": {"title": null, "orient": "top-right", "offset": 10, "symbolType": "M-1,-0.733H4.333V0.733H-1Z", "symbolSize": 225, "symbolStrokeColor": "#000", "symbolStrokeWidth": 0.6, "labelOffset": 28, "rowPadding": 1, "padding": 4,
                         "labelExpr": "datum.label == 'access' ? 'Lender Access' : 'Lender Nonaccess'"}}
   }
  },
  {
   "data": {"values": [{}]},
   "mark": {"type": "rule", "opacity": 0},
   "encoding": {
    "x": {"datum": 2010, "type": "quantitative", "scale": {"domain": [2010, 2019], "nice": false, "zero": false},
          "axis": {"orient": "top", "values": [2010,2011,2012,2013,2014,2015,2016,2017,2018,2019], "labels": false, "title": null}},
    "y": {"datum": 0, "type": "quantitative", "scale": {"domain": [0, 12], "nice": false, "zero": false},
          "axis": {"orient": "right", "values": [0,2,4,6,8,10,12], "labels": false, "title": null}}
   }
  }
 ],
 "resolve": {"axis": {"x": "independent", "y": "independent"}}
},
{
 "width": 427, "height": 337,
 "layer": [
  {
   "layer": [
    {
     "data": {"values": [{}]},
     "mark": {"type": "rule", "color": "#9e9e9e", "strokeWidth": 1.2},
     "encoding": {"y": {"datum": 0, "type": "quantitative", "scale": {"domain": [-0.5, 0.5], "nice": false, "zero": false},
            "axis": {"values": [-0.5,-0.4,-0.3,-0.2,-0.1,0,0.1,0.2,0.3,0.4,0.5], "title": null, "labelOverlap": false, "labelExpr": "replace(format(datum.value, '.1~f'), '−', '-')"}}}
    },
    {
     "data": {"name": "rate"},
     "transform": [{"fold": ["gc"], "as": ["series", "value"]}],
     "mark": {"type": "line", "strokeWidth": 0.9, "clip": true},
     "encoding": {
      "x": {"field": "t", "type": "quantitative", "scale": {"domain": [2010, 2019], "nice": false, "zero": false},
            "axis": {"values": [2010,2011,2012,2013,2014,2015,2016,2017,2018,2019], "format": "d", "title": null, "labelFlush": false, "labelOverlap": false}},
      "y": {"field": "value", "type": "quantitative", "scale": {"domain": [-0.5, 0.5], "nice": false, "zero": false},
            "axis": {"values": [-0.5,-0.4,-0.3,-0.2,-0.1,0,0.1,0.2,0.3,0.4,0.5], "title": null, "labelOverlap": false, "labelExpr": "replace(format(datum.value, '.1~f'), '−', '-')"}},
      "color": {"field": "series", "type": "nominal",
                "scale": {"domain": ["gc", "dfv"], "range": ["#2E86CF", "#E0693A"]},
                "legend": {"title": null, "orient": "top-right", "offset": 10, "symbolType": "M-1,0H4.333", "symbolSize": 225, "symbolStrokeWidth": 1, "labelOffset": 29, "rowPadding": 0, "padding": 5,
                           "labelExpr": "datum.label == 'gc' ? 'GC-Deposit Rate (lhs)' : 'Deposit Facility Volume (rhs)'"}}
     }
    }
   ]
  },
  {
   "data": {"name": "vol"},
   "transform": [{"fold": ["dfv"], "as": ["series", "value"]}],
   "mark": {"type": "line", "strokeWidth": 0.9, "clip": true},
   "encoding": {
    "x": {"field": "t", "type": "quantitative", "scale": {"domain": [2010, 2019], "nice": false, "zero": false},
          "axis": {"orient": "top", "values": [2010,2011,2012,2013,2014,2015,2016,2017,2018,2019], "labels": false, "title": null}},
    "y": {"field": "value", "type": "quantitative", "scale": {"domain": [0, 8], "nice": false, "zero": false},
          "axis": {"orient": "right", "values": [0,1,2,3,4,5,6,7,8], "labelOverlap": false, "title": "×10¹¹", "titleAngle": 0, "titleAlign": "left", "titleBaseline": "alphabetic", "titleX": -1, "titleY": -8, "titleFontSize": 11.5}},
    "color": {"field": "series", "type": "nominal",
              "scale": {"domain": ["gc", "dfv"], "range": ["#2E86CF", "#E0693A"]},
              "legend": {"title": null, "orient": "top-right", "offset": 10, "symbolType": "M-1,0H4.333", "symbolSize": 225, "symbolStrokeWidth": 1, "labelOffset": 29, "rowPadding": 0, "padding": 5,
                         "labelExpr": "datum.label == 'gc' ? 'GC-Deposit Rate (lhs)' : 'Deposit Facility Volume (rhs)'"}}
   }
  }
 ],
 "resolve": {"scale": {"y": "independent"}, "axis": {"x": "independent"}}
}
]
}
